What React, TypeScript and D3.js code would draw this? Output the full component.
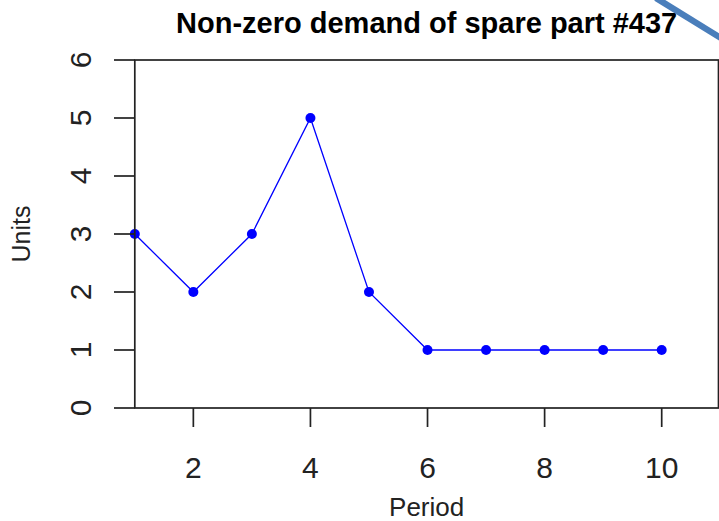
import React from "react";
import * as d3 from "d3";

const periods = [1, 2, 3, 4, 5, 6, 7, 8, 9, 10];
const units = [3, 2, 3, 5, 2, 1, 1, 1, 1, 1];
const xTicks = [2, 4, 6, 8, 10];
const yTicks = [0, 1, 2, 3, 4, 5, 6];
const title = "Non-zero demand of spare part #437";
const xLabel = "Period";
const yLabel = "Units";

const W = 719;
const H = 521;
const left = 134.8;
const right = 718.5;
const top = 60;
const bottom = 408;
const font = "'Liberation Sans', Arial, sans-serif";

export default function App() {
  const x = d3.scaleLinear().domain([1, 10]).range([left, 661.7]);
  const y = d3.scaleLinear().domain([0, 6]).range([bottom, top]);
  const line = d3
    .line<number>()
    .x((_, i) => x(periods[i]))
    .y((d) => y(d));
  const axisColor = "#222";
  return (
    <svg
      width={W}
      height={H}
      style={{ position: "absolute", left: 0, top: 0, background: "#fff" }}
    >
      <rect x={0} y={0} width={W} height={H} fill="#fff" />
      <text
        x={(left + right) / 2}
        y={33}
        textAnchor="middle"
        fontFamily={font}
        fontWeight="bold"
        fontSize={29}
        fill="#000"
      >
        {title}
      </text>
      <path d={line(units) || ""} fill="none" stroke="#0000ff" strokeWidth={1.3} />
      {units.map((d, i) => (
        <circle key={i} cx={x(periods[i])} cy={y(d)} r={5} fill="#0000ff" />
      ))}
      <rect
        x={left}
        y={top}
        width={right - left}
        height={bottom - top}
        fill="none"
        stroke={axisColor}
        strokeWidth={1.7}
      />
      {yTicks.map((t) => (
        <g key={t}>
          <line x1={114} x2={left} y1={y(t)} y2={y(t)} stroke={axisColor} strokeWidth={1.7} />
          <text
            transform={`translate(90.5,${y(t)}) rotate(-90)`}
            textAnchor="middle"
            fontFamily={font}
            fontSize={30}
            fill="#222"
          >
            {t}
          </text>
        </g>
      ))}
      {xTicks.map((t) => (
        <g key={t}>
          <line x1={x(t)} x2={x(t)} y1={bottom} y2={427} stroke={axisColor} strokeWidth={1.7} />
          <text
            x={x(t)}
            y={478}
            textAnchor="middle"
            fontFamily={font}
            fontSize={30}
            fill="#222"
          >
            {t}
          </text>
        </g>
      ))}
      <text
        x={(left + right) / 2}
        y={516}
        textAnchor="middle"
        fontFamily={font}
        fontSize={26}
        fill="#222"
      >
        {xLabel}
      </text>
      <text
        transform={`translate(30,${(top + bottom) / 2}) rotate(-90)`}
        textAnchor="middle"
        fontFamily={font}
        fontSize={25}
        fill="#222"
      >
        {yLabel}
      </text>
      <line x1={656} y1={-2} x2={724} y2={40} stroke="#4a7ebb" strokeWidth={6.3} />
    </svg>
  );
}
